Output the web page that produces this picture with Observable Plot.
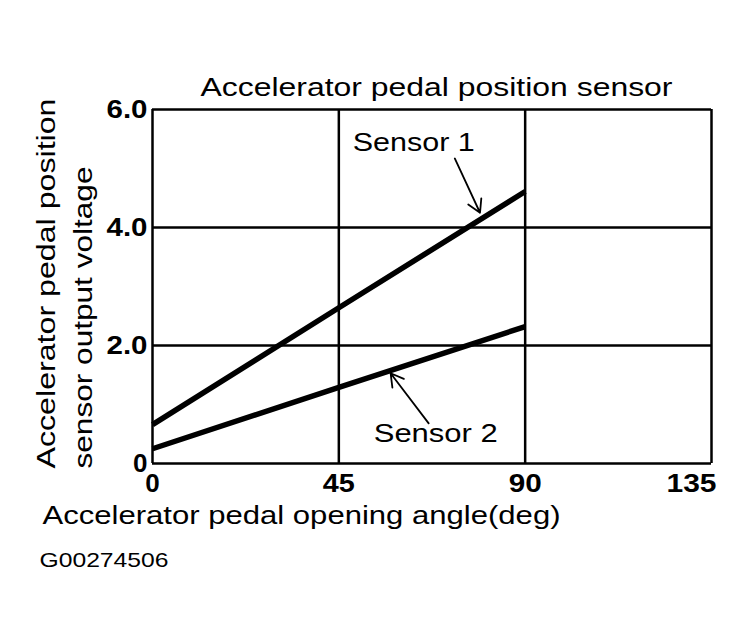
<!DOCTYPE html>
<html><head><meta charset="utf-8">
<script src="https://cdn.jsdelivr.net/npm/d3@7"></script>
<script src="https://cdn.jsdelivr.net/npm/@observablehq/plot@0.6"></script>
<style>body{margin:0;background:#fff;}</style>
</head><body><div id="chart"></div>
<script>
// ---- data ----
const angles = [0, 45, 90];
const sensor1 = [0.66, 2.64, 4.61];
const sensor2 = [0.25, 1.29, 2.32];
const xTicks = [0, 45, 90, 135];
const yTicks = [0, 2, 4, 6];
const seriesNames = ["Sensor 1", "Sensor 2"];
const labelAngle = [63.1, 68.4];
const labelVolt = [5.44, 0.51];
const arrowFromAngle = [73.0, 66.7];
const arrowFromVolt = [5.17, 0.68];
const arrowToAngle = [79.1, 57.5];
const arrowToVolt = [4.25, 1.53];
const titleText = "Accelerator pedal position sensor";
const yLabel1 = "Accelerator pedal position";
const yLabel2 = "sensor output voltage";
const xLabel = "Accelerator pedal opening angle(deg)";
const captionText = "G00274506";

const rows = [];
angles.forEach((a, i) => {
  rows.push({series: "Sensor 1", angle: a, v: sensor1[i]});
  rows.push({series: "Sensor 2", angle: a, v: sensor2[i]});
});
const labels = seriesNames.map((s, i) => ({s, x: labelAngle[i], y: labelVolt[i]}));
const arrows = seriesNames.map((s, i) => ({x1: arrowFromAngle[i], y1: arrowFromVolt[i], x2: arrowToAngle[i], y2: arrowToVolt[i]}));

const font = "Liberation Sans, Arial, Helvetica, sans-serif";
const chart = Plot.plot({
  width: 754,
  height: 644,
  marginLeft: 152,
  marginRight: 43,
  marginTop: 109,
  marginBottom: 181,
  style: {fontFamily: font, background: "#fff", color: "#000"},
  x: {domain: [0, 135]},
  y: {domain: [0, 6]},
  marks: [
    Plot.ruleX(xTicks, {stroke: "#000", strokeWidth: 2.5}),
    Plot.ruleY(yTicks, {stroke: "#000", strokeWidth: 2.5}),
    Plot.line(rows, {x: "angle", y: "v", z: "series", stroke: "#000", strokeWidth: 5.5, strokeLinecap: "butt"}),
    Plot.arrow(arrows, {x1: "x1", y1: "y1", x2: "x2", y2: "y2", stroke: "#000", strokeWidth: 1.8, headLength: 12}),
    Plot.text(labels, {x: "x", y: "y", text: "s", fontSize: 26, textAnchor: "middle", lineAnchor: "middle", fill: "#000"}),
    Plot.axisX({ticks: [0, 45, 90], tickSize: 0, tickPadding: 10, fontSize: 26, fontWeight: "bold", label: null, tickFormat: d => String(d)}),
    Plot.axisX({ticks: [135], tickSize: 0, tickPadding: 10, fontSize: 26, fontWeight: "bold", label: null, dx: -20, tickFormat: d => String(d)}),
    Plot.axisY({ticks: yTicks, tickSize: 0, tickPadding: 5, fontSize: 26, fontWeight: "bold", label: null,
      tickFormat: d => d === 0 ? "0" : d.toFixed(1)}),
    Plot.text([titleText], {frameAnchor: "top", dx: 4.5, dy: -21.5, fontSize: 26, lineAnchor: "middle", fill: "#000"}),
    Plot.text([yLabel1], {frameAnchor: "bottom-left", dx: -106, dy: 5, rotate: -90, textAnchor: "start", lineAnchor: "middle", fontSize: 26, fill: "#000"}),
    Plot.text([yLabel2], {frameAnchor: "bottom-left", dx: -69, dy: 5, rotate: -90, textAnchor: "start", lineAnchor: "middle", fontSize: 26, fill: "#000"}),
    Plot.text([xLabel], {frameAnchor: "bottom-left", dx: -110, dy: 52, textAnchor: "start", lineAnchor: "middle", fontSize: 26, fill: "#000"}),
    Plot.text([captionText], {frameAnchor: "bottom-left", dx: -113, dy: 97, textAnchor: "start", lineAnchor: "middle", fontSize: 21, fill: "#000"})
  ]
});
document.getElementById("chart").appendChild(chart);

// stretch text to match the reference's wide lettering
const lengths = new Map([
  [titleText, 472], [yLabel1, 370], [yLabel2, 302], [xLabel, 518],
  [captionText, 129], ["Sensor 1", 122], ["Sensor 2", 124],
  ["6.0", 41], ["4.0", 41], ["2.0", 41], ["45", 32], ["90", 33], ["135", 50]
]);
d3.select(chart).selectAll("text").each(function() {
  const L = lengths.get(this.textContent);
  if (L) {
    this.setAttribute("textLength", L);
    this.setAttribute("lengthAdjust", "spacingAndGlyphs");
  }
});
</script>
</body></html>
